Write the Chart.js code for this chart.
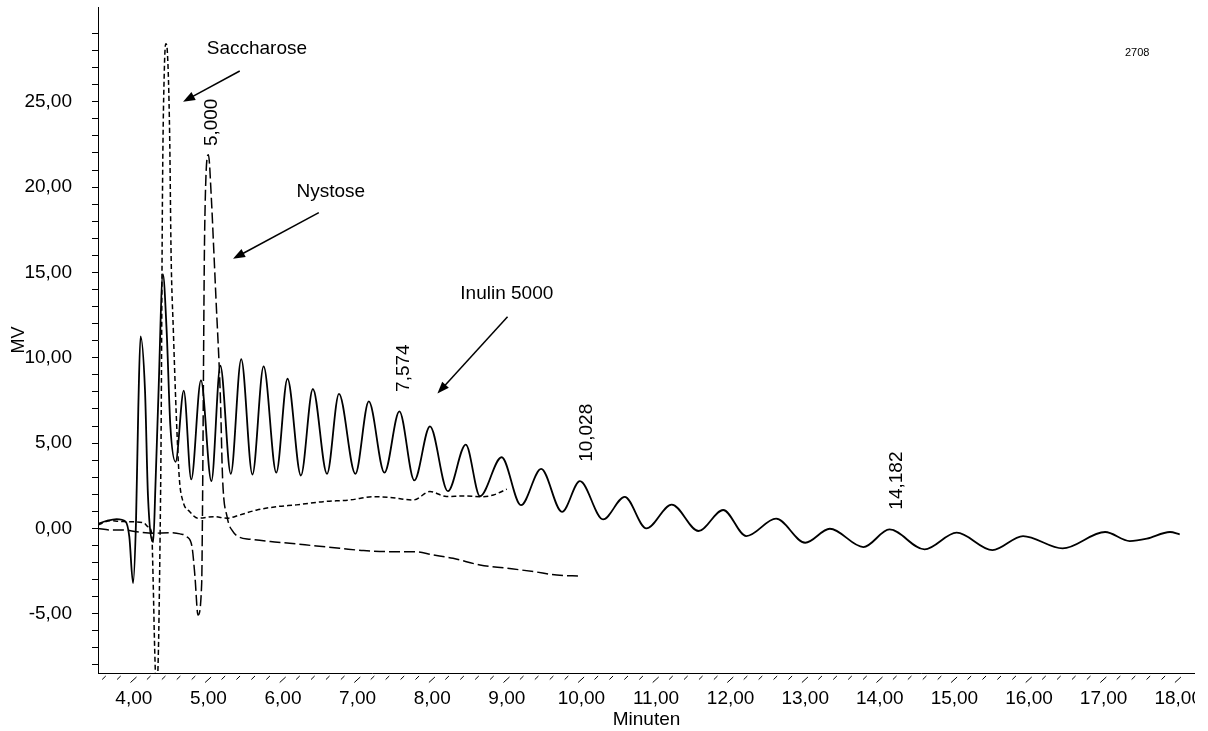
<!DOCTYPE html>
<html lang="de">
<head>
    <meta charset="UTF-8">
    <meta name="viewport" content="width=device-width, initial-scale=1.0">
    <title>Chromatogramm Inulin 5000</title>
    <script src="https://cdn.jsdelivr.net/npm/chart.js"></script>
    <style>
        html, body { margin: 0; padding: 0; background: #fff; }
        #wrap { width: 1195px; height: 731px; }
    </style>
</head>
<body>
    <div id="wrap"><canvas id="chrom"></canvas></div>

    <script>
        // Inulin 5000 (durchgezogene Linie)
        const inulinTime = [3.52, 3.64, 3.77, 3.89, 3.94, 3.99, 4.03, 4.06, 4.09, 4.15,
            4.19, 4.26, 4.29, 4.33, 4.39, 4.44, 4.49, 4.56, 4.67, 4.77,
            4.90, 5.04, 5.16, 5.30, 5.44, 5.59, 5.74, 5.91, 6.06, 6.24,
            6.40, 6.59, 6.75, 6.97, 7.15, 7.36, 7.56, 7.76, 7.97, 8.21,
            8.45, 8.64, 8.93, 9.19, 9.46, 9.74, 9.98, 10.29, 10.58, 10.87,
            11.21, 11.57, 11.90, 12.21, 12.61, 13.00, 13.33, 13.78, 14.13, 14.60,
            15.03, 15.51, 15.92, 16.45, 17.02, 17.35, 17.58, 17.89, 18.02];
        const inulinMV = [0.27, 0.45, 0.55, 0.40, -0.5, -3.2, 0.5, 7.0, 11.25, 8.1,
            1.9, -0.8, 2.5, 7.8, 14.9, 11.6, 6.0, 3.9, 8.07, 2.87,
            8.67, 2.77, 9.53, 3.2, 9.92, 3.16, 9.49, 3.27, 8.77, 3.1,
            8.17, 3.2, 7.88, 3.2, 7.44, 3.27, 6.86, 2.81, 5.98, 2.18,
            4.91, 1.89, 4.17, 1.36, 3.49, 0.97, 2.77, 0.53, 1.85, 0.0,
            1.40, -0.15, 1.08, -0.45, 0.57, -0.84, -0.02, -1.09, -0.06, -1.23,
            -0.25, -1.27, -0.45, -1.17, -0.21, -0.74, -0.6, -0.21, -0.35];

        // Saccharose (kurz gestrichelt)
        const saccharoseTime = [3.52, 3.68, 3.86, 4.13, 4.19, 4.24, 4.26, 4.28, 4.305, 4.33,
            4.35, 4.365, 4.385, 4.41, 4.43, 4.45, 4.48, 4.50, 4.53, 4.57,
            4.61, 4.66, 4.75, 4.86, 5.07, 5.25, 5.42, 5.65, 5.92, 6.18,
            6.54, 6.90, 7.21, 7.41, 7.75, 7.97, 8.19, 8.42, 8.68, 8.82, 9.00];
        const saccharoseMV = [0.2, 0.45, 0.4, 0.34, 0.1, -0.28, -3.2, -7.1, -9.8, -7.1,
            -1.3, 5.0, 20.0, 27.0, 28.4, 27.9, 23.2, 16.0, 11.6, 6.56,
            2.94, 1.57, 0.98, 0.6, 0.69, 0.6, 0.79, 1.08, 1.28, 1.38,
            1.57, 1.67, 1.86, 1.83, 1.67, 2.16, 1.87, 1.9, 1.86, 1.96, 2.3];

        // Nystose (lang gestrichelt)
        const nystoseTime = [3.52, 3.68, 3.86, 4.04, 4.26, 4.49, 4.62, 4.71, 4.78, 4.82,
            4.86, 4.91, 4.92, 4.95, 5.00, 5.04, 5.07, 5.10, 5.16, 5.19,
            5.25, 5.33, 5.42, 5.56, 5.83, 6.09, 6.45, 6.76, 7.08, 7.41,
            7.75, 8.01, 8.28, 8.64, 9.00, 9.36, 9.67, 9.98];
        const nystoseMV = [0.0, -0.09, -0.09, -0.19, -0.28, -0.25, -0.32, -0.48, -1.07, -2.83,
            -5.07, -3.2, 0.69, 17.5, 21.9, 19.3, 16.5, 13.6, 7.73, 2.94,
            0.69, -0.19, -0.52, -0.63, -0.77, -0.87, -1.03, -1.16, -1.3, -1.36,
            -1.36, -1.55, -1.75, -2.14, -2.33, -2.53, -2.73, -2.79];

        // Achsenbeschriftung
        const xTickValues = [4, 5, 6, 7, 8, 9, 10, 11, 12, 13, 14, 15, 16, 17, 18];
        const yTickValues = [-5, 0, 5, 10, 15, 20, 25];

        // Retentionszeiten an den Peaks
        const peakTimes = [5.000, 7.574, 10.028, 14.182];
        const peakLabelMV = [22.4, 8.0, 3.9, 1.1];

        // Pfeile mit Beschriftung (in Minuten / MV)
        const arrowTexts = ['Saccharose', 'Nystose', 'Inulin 5000'];
        const arrowTextAt = [[5.65, 28.1], [6.64, 19.7], [9.0, 13.75]];
        const arrowFrom = [[5.42, 26.8], [6.48, 18.5], [9.01, 12.4]];
        const arrowTo = [[4.66, 25.0], [5.33, 15.8], [8.07, 7.9]];

        const FONT = "'Liberation Sans', Arial, sans-serif";
        const fmt = v => v.toFixed(2).replace('.', ',');
        const toPoints = (xs, ys) => xs.map((x, i) => ({ x: x, y: ys[i] }));

        // Beschriftungen, Pfeile und schraege Teilstriche der Zeitachse
        const chromPlugin = {
            id: 'chromPlugin',
            afterDraw(chart) {
                const { ctx, chartArea } = chart;
                const x = chart.scales.x, y = chart.scales.y;
                ctx.save();
                ctx.strokeStyle = '#000';
                ctx.fillStyle = '#000';

                // Teilstriche alle 0,2 min
                ctx.lineWidth = 1;
                const axisY = chartArea.bottom;
                for (let k = 18; k <= 90; k++) {
                    const px = x.getPixelForValue(k / 5);
                    ctx.beginPath();
                    if (k % 5 === 0) {
                        ctx.moveTo(px - 3.3, axisY + 9.5);
                        ctx.lineTo(px + 2.7, axisY + 4);
                    } else {
                        ctx.moveTo(px - 1.8, axisY + 6.5);
                        ctx.lineTo(px + 1.8, axisY + 3);
                    }
                    ctx.stroke();
                }

                // Pfeile
                ctx.font = '19px ' + FONT;
                ctx.textAlign = 'center';
                ctx.textBaseline = 'middle';
                arrowTexts.forEach((txt, i) => {
                    ctx.fillText(txt, x.getPixelForValue(arrowTextAt[i][0]), y.getPixelForValue(arrowTextAt[i][1]));
                    const x1 = x.getPixelForValue(arrowFrom[i][0]), y1 = y.getPixelForValue(arrowFrom[i][1]);
                    const x2 = x.getPixelForValue(arrowTo[i][0]), y2 = y.getPixelForValue(arrowTo[i][1]);
                    const a = Math.atan2(y2 - y1, x2 - x1);
                    ctx.lineWidth = 1.5;
                    ctx.beginPath();
                    ctx.moveTo(x1, y1);
                    ctx.lineTo(x2 - 8 * Math.cos(a), y2 - 8 * Math.sin(a));
                    ctx.stroke();
                    ctx.beginPath();
                    ctx.moveTo(x2, y2);
                    ctx.lineTo(x2 - 12 * Math.cos(a) + 4.5 * Math.sin(a), y2 - 12 * Math.sin(a) - 4.5 * Math.cos(a));
                    ctx.lineTo(x2 - 12 * Math.cos(a) - 4.5 * Math.sin(a), y2 - 12 * Math.sin(a) + 4.5 * Math.cos(a));
                    ctx.closePath();
                    ctx.fill();
                });

                // Retentionszeiten senkrecht
                ctx.textAlign = 'left';
                peakTimes.forEach((t, i) => {
                    ctx.save();
                    ctx.translate(x.getPixelForValue(t) + 3, y.getPixelForValue(peakLabelMV[i]));
                    ctx.rotate(-Math.PI / 2);
                    ctx.fillText(t.toFixed(3).replace('.', ','), 0, 0);
                    ctx.restore();
                });

                // Probennummer
                ctx.font = '11px ' + FONT;
                ctx.textAlign = 'center';
                ctx.fillText('2708', x.getPixelForValue(17.45), y.getPixelForValue(27.83));
                ctx.restore();
            }
        };

        const ctx = document.getElementById('chrom').getContext('2d');
        const chromChart = new Chart(ctx, {
            type: 'line',
            data: {
                datasets: [{
                    label: 'Inulin 5000',
                    data: toPoints(inulinTime, inulinMV),
                    borderColor: '#000',
                    borderWidth: 1.8,
                    pointRadius: 0,
                    cubicInterpolationMode: 'monotone'
                }, {
                    label: 'Saccharose',
                    data: toPoints(saccharoseTime, saccharoseMV),
                    borderColor: '#000',
                    borderWidth: 1.5,
                    borderDash: [5, 3],
                    pointRadius: 0,
                    cubicInterpolationMode: 'monotone'
                }, {
                    label: 'Nystose',
                    data: toPoints(nystoseTime, nystoseMV),
                    borderColor: '#000',
                    borderWidth: 1.5,
                    borderDash: [11, 4],
                    pointRadius: 0,
                    cubicInterpolationMode: 'monotone'
                }]
            },
            options: {
                responsive: true,
                maintainAspectRatio: false,
                animation: false,
                layout: { padding: { top: 7, left: 0, right: 0, bottom: 0 } },
                plugins: {
                    legend: { display: false },
                    tooltip: { enabled: false }
                },
                scales: {
                    x: {
                        type: 'linear',
                        min: 3.52,
                        max: 18.225,
                        afterBuildTicks: s => { s.ticks = xTickValues.map(v => ({ value: v })); },
                        afterFit: s => { s.paddingLeft = 0; s.paddingRight = 0; s.height = 58; },
                        grid: { drawOnChartArea: false, drawTicks: false },
                        border: { color: '#000', width: 1 },
                        ticks: {
                            color: '#000',
                            font: { family: FONT, size: 19 },
                            padding: 14,
                            maxRotation: 0,
                            autoSkip: false,
                            callback: v => fmt(v)
                        },
                        title: {
                            display: true,
                            text: 'Minuten',
                            color: '#000',
                            font: { family: FONT, size: 19 },
                            padding: { top: 0, bottom: 0 }
                        }
                    },
                    y: {
                        min: -8.47,
                        max: 30.55,
                        afterBuildTicks: s => {
                            const t = [];
                            for (let v = -8; v <= 29; v++) t.push({ value: v });
                            s.ticks = t;
                        },
                        afterFit: s => { s.width = 98; s.paddingTop = 0; s.paddingBottom = 0; },
                        grid: { drawOnChartArea: false, tickLength: 6, color: '#000', tickWidth: 1 },
                        border: { color: '#000', width: 1 },
                        ticks: {
                            color: '#000',
                            font: { family: FONT, size: 19 },
                            padding: 20,
                            autoSkip: false,
                            callback: v => yTickValues.includes(v) ? fmt(v) : ''
                        },
                        title: {
                            display: true,
                            text: 'MV',
                            color: '#000',
                            font: { family: FONT, size: 18 },
                            padding: { top: 8, bottom: 0 }
                        }
                    }
                }
            },
            plugins: [chromPlugin]
        });
    </script>
</body>
</html>
